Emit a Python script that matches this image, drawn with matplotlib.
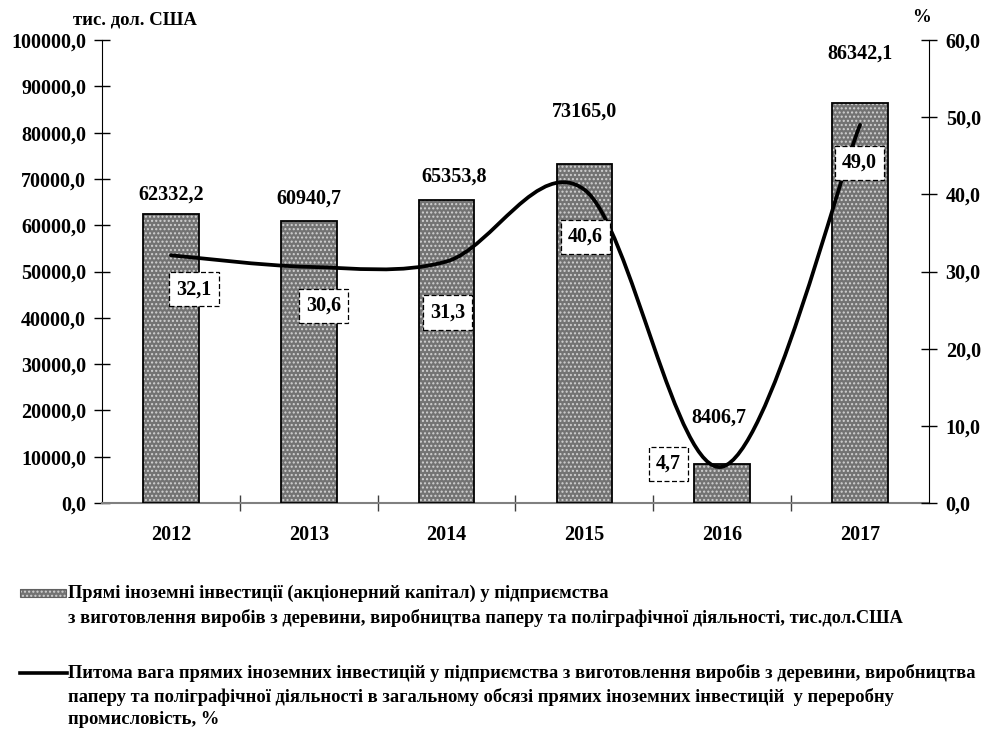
import numpy as np
import matplotlib
matplotlib.use('Agg')
from matplotlib import pyplot as plt
from matplotlib.path import Path
from matplotlib.patches import PathPatch, Rectangle
from matplotlib.lines import Line2D


years = ['2012', '2013', '2014', '2015', '2016', '2017']
invest = [62332.2, 60940.7, 65353.8, 73165.0, 8406.7, 86342.1]
share = [32.1, 30.6, 31.3, 40.6, 4.7, 49.0]

left_ticks = np.arange(0, 100001, 10000)
right_ticks = np.arange(0, 61, 10)

bar_label = 'Прямі іноземні інвестиції (акціонерний капітал) у підприємства\n' \
            'з виготовлення виробів з деревини, виробництва паперу та поліграфічної діяльності, тис.дол.США'
line_label = 'Питома вага прямих іноземних інвестицій у підприємства з виготовлення виробів з деревини, виробництва\n' \
             'паперу та поліграфічної діяльності в загальному обсязі прямих іноземних інвестицій  у переробну\n' \
             'промисловість, %'

# label offsets in pixels (dx, dy down) -- hand placed like in the original
bar_offsets = [(0, 10), (0, 12), (8, 14), (0, 43), (-3, 36), (0, 40)]
pct_offsets = [(23, 34), (15, 39), (1, 51), (1, 47), (-54, -3), (-1, 38)]

BAR_FACE = '#737373'
BAR_DOTS = '#d2d2d2'

plt.rcParams['font.family'] = ['Liberation Serif', 'DejaVu Serif']
plt.rcParams['font.weight'] = 'bold'
plt.rcParams['hatch.linewidth'] = 1.0

W, H = 983, 731
fig = plt.figure(figsize=(W / 100, H / 100), dpi=100)
ax = fig.add_axes([102 / W, 1 - 503 / H, 827 / W, 463 / H])
ax2 = ax.twinx()

x = np.arange(len(years))
ax.bar(x, invest, width=0.405, color=BAR_FACE, edgecolor=BAR_DOTS, hatch='....', linewidth=0, zorder=2)
ax.bar(x, invest, width=0.405, fill=False, edgecolor='black', linewidth=1.3, zorder=3)

ax.set_xlim(-0.5, len(years) - 0.5)
ax.set_ylim(0, 100000)
ax2.set_ylim(0, 60)

ax.set_yticks(left_ticks)
ax.set_yticklabels([f'{v:.1f}'.replace('.', ',') for v in left_ticks], fontsize=14.5)
ax2.set_yticks(right_ticks)
ax2.set_yticklabels([f'{v:.1f}'.replace('.', ',') for v in right_ticks], fontsize=14.5)

ax.set_xticks(x)
ax.set_xticklabels(years, fontsize=14.5)
ax.set_xticks(np.arange(0.5, len(years) - 1), minor=True)
ax.tick_params(axis='x', which='major', length=0, pad=16)
ax.tick_params(axis='x', which='minor', direction='inout', length=12, width=1, color='#404040')
ax.tick_params(axis='y', direction='inout', length=11, width=1, pad=6)
ax2.tick_params(axis='y', direction='inout', length=12, width=1, pad=6)

for a in (ax, ax2):
    a.spines['top'].set_visible(False)
ax.spines['right'].set_visible(False)
ax2.spines['left'].set_visible(False)
ax2.spines['bottom'].set_visible(False)
ax.spines['bottom'].set_color('#808080')
ax.spines['bottom'].set_linewidth(1.5)

# smoothed line (Excel-like bezier), built in display space
pts = ax2.transData.transform(np.column_stack([x, share]))
ext = np.vstack([pts[0], pts, pts[-1]])
verts = [pts[0]]
codes = [Path.MOVETO]
for i in range(len(pts) - 1):
    p0, p1, p2, p3 = ext[i], ext[i + 1], ext[i + 2], ext[i + 3]
    verts += [p1 + (p2 - p0) / 6, p2 - (p3 - p1) / 6, p2]
    codes += [Path.CURVE4] * 3
verts = ax2.transData.inverted().transform(np.array(verts))
ax2.add_patch(PathPatch(Path(verts, codes), fill=False, edgecolor='black', lw=2.7,
                        capstyle='round', zorder=4))

for xi, v, (dx, dy) in zip(x, invest, bar_offsets):
    ax.annotate(f'{v:.1f}'.replace('.', ','), (xi, v), xytext=(dx * 0.72, dy * 0.72),
                textcoords='offset points', ha='center', va='bottom', fontsize=14.5, zorder=5)

for xi, v, (dx, dy) in zip(x, share, pct_offsets):
    ax2.annotate(f'{v:.1f}'.replace('.', ','), (xi, v), xytext=(dx * 0.72, -dy * 0.72),
                 textcoords='offset points', ha='center', va='center', fontsize=14.5, zorder=6,
                 bbox=dict(boxstyle='square,pad=0.35', fc='white', ec='black', ls=(0, (4, 2)), lw=0.9))

fig.text(73 / W, 1 - 20 / H, 'тис. дол. США', ha='left', va='center', fontsize=13.5)
fig.text(921 / W, 1 - 17 / H, '%', ha='center', va='center', fontsize=13.5)

# legend, drawn by hand so the keys sit on the first line of text
fig.add_artist(Rectangle((20 / W, 1 - 597 / H), 46 / W, 8 / H, transform=fig.transFigure,
                         facecolor=BAR_FACE, edgecolor=BAR_DOTS, hatch='....', linewidth=0))
fig.add_artist(Rectangle((20 / W, 1 - 597 / H), 46 / W, 8 / H, transform=fig.transFigure,
                         fill=False, edgecolor='#606060', linewidth=0.8))
fig.text(68 / W, 1 - 585 / H, bar_label, ha='left', va='top', fontsize=13.3, linespacing=1.45)

fig.add_artist(Line2D([20 / W, 67 / W], [1 - 673 / H, 1 - 673 / H], transform=fig.transFigure,
                      color='black', lw=2.6))
fig.text(68 / W, 1 - 664 / H, line_label, ha='left', va='top', fontsize=13.3, linespacing=1.4)

fig.savefig('out.png', dpi=100)
